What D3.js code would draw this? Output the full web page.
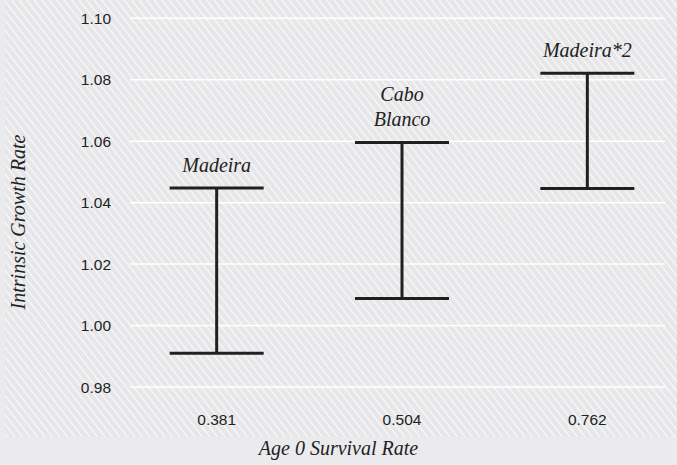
<!DOCTYPE html>
<html>
<head>
<meta charset="utf-8">
<script src="https://cdn.jsdelivr.net/npm/d3@7"></script>
<style>
  body { margin: 0; background: #ebebed; }
  svg { display: block; }
</style>
</head>
<body>
<svg></svg>
<script>
  // survival rates (x categories) and growth rate intervals
  const survival = ['0.381', '0.504', '0.762'];
  const sites = [['Madeira'], ['Cabo', 'Blanco'], ['Madeira*2']];
  const lowRate = [0.991, 1.0088, 1.0446];
  const highRate = [1.0448, 1.0596, 1.0821];
  const yTicks = [0.98, 1.0, 1.02, 1.04, 1.06, 1.08, 1.1];

  let width = 677;
  let height = 465;
  const sans = '"Liberation Sans", Arial';
  const serif = '"Liberation Serif", "Times New Roman"';

  // make sure both faces are resolved before anything is drawn
  document.fonts.check('italic 20px "Liberation Serif"');
  document.fonts.check('16px "Liberation Sans"');

  let svg = d3.select('svg').attr('width', width).attr('height', height);

  // hatch background, drawn as plain diagonal lines clipped to the panel
  svg.append('rect').attr('width', width).attr('height', height).attr('fill', '#ebebed');
  svg
    .append('clipPath')
    .attr('id', 'panel')
    .append('rect')
    .attr('x', 5)
    .attr('y', 0)
    .attr('width', width - 5)
    .attr('height', 437);
  let hatch = svg.append('g').attr('clip-path', 'url(#panel)');
  hatch
    .append('rect')
    .attr('x', 5)
    .attr('width', width - 5)
    .attr('height', 437)
    .attr('fill', '#e7e7e9');
  let step = 7.5;
  let run = 437 * 0.78; // horizontal run of each stripe over the panel height
  hatch
    .selectAll('line')
    .data(d3.range(-run, width, step))
    .enter()
    .append('line')
    .attr('x1', (d) => d)
    .attr('y1', 0)
    .attr('x2', (d) => d + run)
    .attr('y2', 437)
    .attr('stroke', '#f8f8f9')
    .attr('stroke-width', 1.3);

  let x = d3.scaleBand().domain(survival).range([124, 680]);
  let y = d3.scaleLinear().domain([0.98, 1.1]).range([387, 18.3]);
  let cx = (d) => x(d) + x.bandwidth() / 2;

  // gridlines
  svg
    .append('g')
    .selectAll('line')
    .data(yTicks)
    .enter()
    .append('line')
    .attr('x1', 130)
    .attr('x2', 665)
    .attr('y1', (d) => y(d))
    .attr('y2', (d) => y(d))
    .attr('stroke', '#ffffff')
    .attr('stroke-width', 1.5);

  // error bars
  let bars = svg
    .append('g')
    .selectAll('g')
    .data(survival)
    .enter()
    .append('g')
    .attr('stroke', '#231f20')
    .attr('stroke-width', 3);
  let cap = 47;
  bars
    .append('line')
    .attr('x1', cx)
    .attr('x2', cx)
    .attr('y1', (d, i) => y(highRate[i]))
    .attr('y2', (d, i) => y(lowRate[i]));
  bars
    .append('line')
    .attr('x1', (d) => cx(d) - cap)
    .attr('x2', (d) => cx(d) + cap)
    .attr('y1', (d, i) => y(highRate[i]))
    .attr('y2', (d, i) => y(highRate[i]));
  bars
    .append('line')
    .attr('x1', (d) => cx(d) - cap)
    .attr('x2', (d) => cx(d) + cap)
    .attr('y1', (d, i) => y(lowRate[i]))
    .attr('y2', (d, i) => y(lowRate[i]));

  // italic titles and site labels
  svg
    .append('text')
    .attr('x', width / 2)
    .attr('y', 455)
    .attr('text-anchor', 'middle')
    .attr('fill', '#222')
    .style('font-family', serif)
    .style('font-style', 'italic')
    .style('font-size', '20px')
    .text('Age 0 Survival Rate');

  svg
    .append('text')
    .attr('transform', 'translate(25,222) rotate(-90)')
    .attr('text-anchor', 'middle')
    .attr('fill', '#222')
    .style('font-family', serif)
    .style('font-style', 'italic')
    .style('font-size', '20px')
    .text('Intrinsic Growth Rate');

  sites.forEach((lines, i) => {
    lines.forEach((line, j) => {
      svg
        .append('text')
        .attr('x', cx(survival[i]))
        .attr('y', y(highRate[i]) - 16 - (lines.length - 1 - j) * 25)
        .attr('text-anchor', 'middle')
        .attr('fill', '#222')
        .style('font-family', serif)
        .style('font-style', 'italic')
        .style('font-size', '20px')
        .text(line);
    });
  });

  // y tick labels
  svg
    .append('g')
    .selectAll('text')
    .data(yTicks)
    .enter()
    .append('text')
    .attr('x', 111)
    .attr('y', (d) => y(d) + 5.5)
    .attr('text-anchor', 'end')
    .attr('fill', '#222')
    .style('font-family', sans)
    .style('font-size', '15.5px')
    .text((d) => d3.format('.2f')(d));

  // x tick labels
  svg
    .append('g')
    .selectAll('text')
    .data(survival)
    .enter()
    .append('text')
    .attr('x', cx)
    .attr('y', 424.5)
    .attr('text-anchor', 'middle')
    .attr('fill', '#222')
    .style('font-family', sans)
    .style('font-size', '15.5px')
    .text((d) => d);
</script>
</body>
</html>
